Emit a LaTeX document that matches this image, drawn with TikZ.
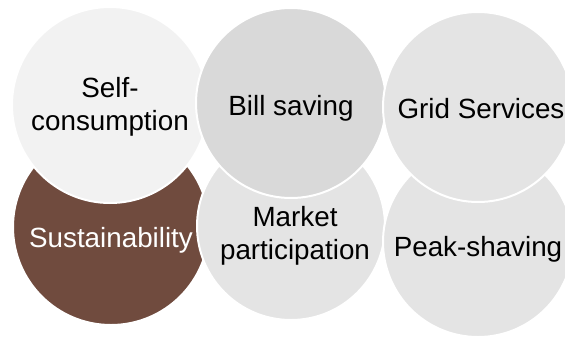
\documentclass[tikz,border=0pt]{standalone}
\usepackage{fontspec}
\setmainfont{Liberation Sans}
\usepackage{tikz}
\usetikzlibrary{positioning}
\usepackage{xcolor}

\definecolor{sustbrown}{HTML}{704B3E}
\definecolor{greylight}{HTML}{F2F2F2}
\definecolor{greymid}{HTML}{E4E4E4}
\definecolor{greydark}{HTML}{D9D9D9}

\tikzset{
    bubble/.style={circle, draw=white, line width=1pt, inner sep=0pt},
    bubbletext/.style={align=center, font=\fontsize{13.9}{16.3}\selectfont, inner sep=0pt}
}

\begin{document}
\begin{tikzpicture}[x=0.5pt, y=0.5pt]
        \useasboundingbox (0, 0) rectangle (565, 338);
        % Bubbles
        \node [bubble, fill=sustbrown, minimum size=98pt] (sust) at (111, 111) {};
        \node [bubble, fill=greylight, minimum size=98pt] (selfcons) at (110, 233) {};
        \node [bubble, fill=greymid, minimum size=94pt] (market) at (291, 112) {};
        \node [bubble, fill=greydark, minimum size=95pt] (bill) at (291, 235) {};
        \node [bubble, fill=greymid, minimum size=95pt] (peak) at (478, 96) {};
        \node [bubble, fill=greymid, minimum size=95pt] (grid) at (478, 231) {};
        % % Labels
        \node [bubbletext, text=white] (susttxt) at ([yshift=-6.5pt]sust.center) {Sustainability};
        \node [bubbletext] (selfconstxt) at ([yshift=-1pt]selfcons.center) {Self-\\consumption};
        \node [bubbletext] (markettxt) at ([xshift=2pt, yshift=-5pt]market.center) {Market\\participation};
        \node [bubbletext] (billtxt) at ([yshift=-2.5pt]bill.center) {Bill saving};
        \node [bubbletext] (peaktxt) at ([yshift=-3.5pt]peak.center) {Peak-shaving};
        \node [bubbletext] (gridtxt) at ([xshift=1.5pt, yshift=-1pt]grid.center) {Grid Services};
    \end{tikzpicture}
\end{document}
